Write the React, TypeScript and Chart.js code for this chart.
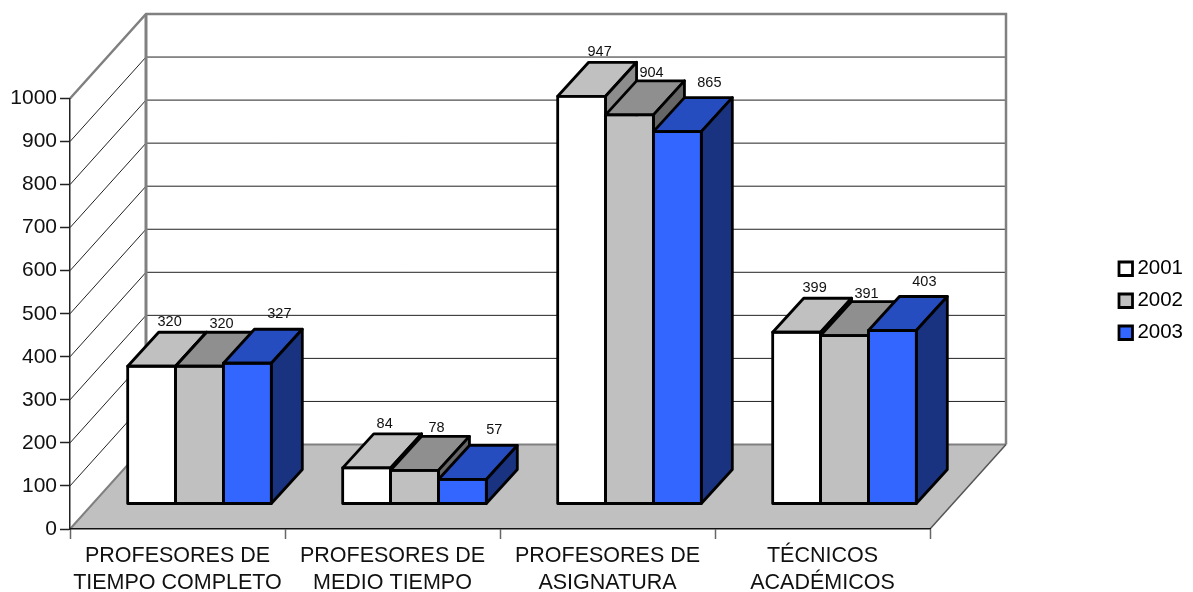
import React, { useEffect, useRef } from "react";
import { Chart, registerables } from "chart.js";

Chart.register(...registerables);

const categories: string[][] = [
  ["PROFESORES DE", "TIEMPO COMPLETO"],
  ["PROFESORES DE", "MEDIO TIEMPO"],
  ["PROFESORES DE", "ASIGNATURA"],
  ["TÉCNICOS", "ACADÉMICOS"],
];
const values2001 = [320, 84, 947, 399];
const values2002 = [320, 78, 904, 391];
const values2003 = [327, 57, 865, 403];
const seriesLabels = ["2001", "2002", "2003"];
const yTicksMax = 1000;
const yTicksStep = 100;

const FONT = "'Liberation Sans', Arial, sans-serif";
const frontColors = ["#ffffff", "#c0c0c0", "#3366ff"];
const topColors = ["#c0c0c0", "#8f8f8f", "#264dbf"];
const sideColors = ["#8c8c8c", "#666666", "#1a3380"];
const labelNudge = [
  { x: 18, y: -44 },
  { x: 22, y: -42 },
  { x: 32, y: -49 },
];

// 3D projection
const WALL_DX = 76;
const WALL_DY = -84.5;
const BAR_SHIFT_X = 22;
const BAR_SHIFT_Y = -25;
const BAR_DX = 31;
const BAR_DY = -34;

function poly(ctx: CanvasRenderingContext2D, pts: number[][], fill: string | null, stroke: string | null, lw = 1) {
  ctx.beginPath();
  pts.forEach((p, i) => (i ? ctx.lineTo(p[0], p[1]) : ctx.moveTo(p[0], p[1])));
  if (fill) {
    ctx.closePath();
    ctx.fillStyle = fill;
    ctx.fill();
  }
  if (stroke) {
    ctx.strokeStyle = stroke;
    ctx.lineWidth = lw;
    ctx.stroke();
  }
}

const walls3d = {
  id: "walls3d",
  beforeDraw(chart: any) {
    const { ctx, chartArea: a, scales } = chart;
    const y = scales.y;
    const x0 = a.left, x1 = a.right, y0 = y.getPixelForValue(0), yT = y.getPixelForValue(yTicksMax);
    const bx0 = x0 + WALL_DX, bx1 = x1 + WALL_DX;
    ctx.save();
    ctx.fillStyle = "#ffffff";
    ctx.fillRect(0, 0, chart.width, chart.height);
    // floor
    poly(ctx, [[x0, y0], [x1, y0], [bx1, y0 + WALL_DY], [bx0, y0 + WALL_DY]], "#c0c0c0", null);
    // grid
    for (let v = yTicksStep; v < yTicksMax; v += yTicksStep) {
      const p = y.getPixelForValue(v);
      poly(ctx, [[x0, p], [bx0, p + WALL_DY], [bx1, p + WALL_DY]], null, "#222222", 1);
    }
    // wall outlines
    poly(ctx, [[x0, yT], [bx0, yT + WALL_DY], [bx1, yT + WALL_DY], [bx1, y0 + WALL_DY]], null, "#808080", 2.5);
    poly(ctx, [[bx0, yT + WALL_DY], [bx0, y0 + WALL_DY]], null, "#808080", 3);
    poly(ctx, [[x0, y0], [bx0, y0 + WALL_DY], [bx1, y0 + WALL_DY]], null, "#808080", 2);
    poly(ctx, [[x1, y0], [bx1, y0 + WALL_DY]], null, "#555555", 1.5);
    ctx.restore();
  },
};

const bars3d = {
  id: "bars3d",
  beforeDatasetDraw() {
    return false;
  },
  afterDatasetsDraw(chart: any) {
    const { ctx } = chart;
    ctx.save();
    ctx.lineJoin = "round";
    chart.data.datasets.forEach((ds: any, i: number) => {
      const meta = chart.getDatasetMeta(i);
      ctx.save();
      ctx.translate(BAR_SHIFT_X, BAR_SHIFT_Y);
      meta.data.forEach((el: any) => {
        const { x, y, base, width } = el.getProps(["x", "y", "base", "width"], true);
        const l = x - width / 2, r = x + width / 2;
        poly(ctx, [[l, y], [l + BAR_DX, y + BAR_DY], [r + BAR_DX, y + BAR_DY], [r, y]], topColors[i], "#000", 2.8);
        poly(ctx, [[r, y], [r + BAR_DX, y + BAR_DY], [r + BAR_DX, base + BAR_DY], [r, base]], sideColors[i], "#000", 2.8);
        el.draw(ctx);
        ctx.strokeStyle = "#000";
        ctx.lineWidth = 2.8;
        ctx.strokeRect(l, y, width, base - y);
      });
      ctx.restore();
    });
    ctx.font = `14.5px ${FONT}`;
    ctx.fillStyle = "#111111";
    ctx.textAlign = "center";
    ctx.textBaseline = "middle";
    chart.data.datasets.forEach((ds: any, i: number) => {
      chart.getDatasetMeta(i).data.forEach((el: any, j: number) => {
        ctx.fillText(String(ds.data[j]), el.x + labelNudge[i].x + BAR_SHIFT_X, el.y + labelNudge[i].y + BAR_SHIFT_Y);
      });
    });
    ctx.restore();
  },
};

const legendPlace = {
  id: "legendPlace",
  afterLayout(chart: any) {
    const l = chart.legend;
    if (!l) return;
    l.left = 1107.5;
    l.right = 1183;
    l.width = 75.5;
    l.top = 247;
    l.bottom = 420;
    l.height = 173;
  },
};

export default function App() {
  const ref = useRef<HTMLCanvasElement>(null);
  useEffect(() => {
    if (!ref.current) return;
    const baseGen = Chart.defaults.plugins.legend.labels.generateLabels;
    const chart = new Chart(ref.current, {
      type: "bar",
      data: {
        labels: categories,
        datasets: [values2001, values2002, values2003].map((d, i) => ({
          label: seriesLabels[i],
          data: d,
          backgroundColor: frontColors[i],
          borderColor: "#000000",
          borderWidth: 1.3,
          borderSkipped: false,
          categoryPercentage: 0.668,
          barPercentage: 1,
          clip: false,
        })),
      },
      plugins: [walls3d, bars3d, legendPlace],
      options: {
        animation: false,
        responsive: false,
        layout: { padding: { top: 98.5, right: 263, left: 0, bottom: 0 } },
        plugins: {
          tooltip: { enabled: false },
          legend: {
            position: "chartArea",
            align: "start",
            labels: {
              boxWidth: 13.5,
              boxHeight: 13.5,
              padding: 11.5,
              color: "#000000",
              textAlign: "right",
              font: { family: FONT, size: 20.5, lineHeight: 1.12 },
              generateLabels: (c: any) => baseGen(c).map((it: any) => ({ ...it, lineWidth: 2.8 })),
            },
          },
        },
        scales: {
          x: {
            afterFit: (s: any) => { s.height = 63; },
            grid: { drawOnChartArea: false, drawTicks: true, tickLength: 10, tickColor: "#666666", tickWidth: 1.5, offset: true },
            border: { display: true, color: "#111111", width: 1.5 },
            ticks: {
              color: "#111111",
              padding: 3,
              maxRotation: 0,
              autoSkip: false,
              font: { family: FONT, size: 21.5, lineHeight: 1.27 },
            },
          },
          y: {
            min: 0,
            max: yTicksMax,
            afterFit: (s: any) => { s.width = 70; },
            grid: { drawOnChartArea: false, drawTicks: true, tickLength: 10, tickColor: "#222222", tickWidth: 1.5 },
            border: { display: true, color: "#222222", width: 1.5 },
            ticks: {
              stepSize: yTicksStep,
              color: "#111111",
              padding: 3,
              font: { family: FONT, size: 21 },
              callback: (v: any) => String(v),
            },
          },
        },
      } as any,
    });
    return () => chart.destroy();
  }, []);
  return (
    <div style={{ position: "absolute", left: 0, top: 0, width: 1193, height: 592 }}>
      <canvas ref={ref} width={1193} height={592} style={{ display: "block" }} />
    </div>
  );
}
